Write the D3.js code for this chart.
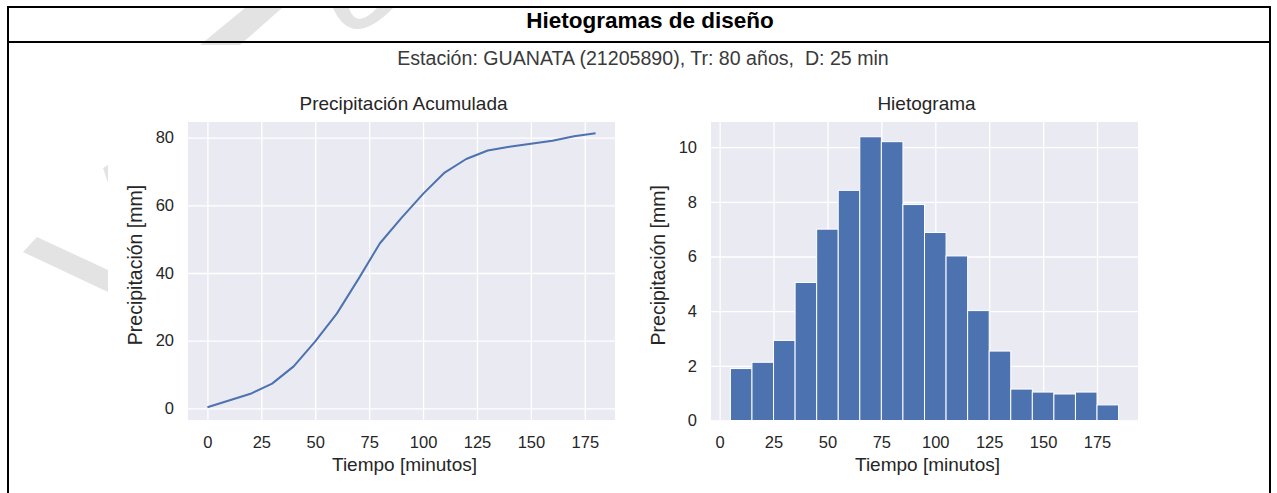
<!DOCTYPE html>
<html>
<head>
<meta charset="utf-8">
<script src="https://cdn.jsdelivr.net/npm/d3@7"></script>
<style>
  html, body { margin: 0; padding: 0; background: #fff; }
  svg { display: block; }
  text { font-family: "Liberation Sans", Arial, Helvetica, sans-serif; white-space: pre; }
</style>
</head>
<body>
<svg id="chart" width="1277" height="493"></svg>
<script>
// ---------------- data ----------------
const mainTitle = "Hietogramas de diseño";
const subTitle = "Estación: GUANATA (21205890), Tr: 80 años,  D: 25 min";
const leftTitle = "Precipitación Acumulada";
const rightTitle = "Hietograma";
const xLabel = "Tiempo [minutos]";
const yLabel = "Precipitación [mm]";

// cumulative precipitation (every 10 min)
const cumTime = [0, 10, 20, 30, 40, 50, 60, 70, 80, 90, 100, 110, 120, 130, 140, 150, 160, 170, 180];
const cumPrecip = [0.3, 2.3, 4.3, 7.3, 12.4, 19.8, 28.0, 38.2, 48.8, 56.3, 63.4, 69.7, 73.7, 76.2, 77.3, 78.2, 79.1, 80.4, 81.3];

// hyetograph bars (centre time, depth)
const barTime = [10, 20, 30, 40, 50, 60, 70, 80, 90, 100, 110, 120, 130, 140, 150, 160, 170, 180];
const barDepth = [1.9, 2.13, 2.93, 5.05, 7.0, 8.42, 10.38, 10.2, 7.9, 6.88, 6.02, 4.02, 2.54, 1.15, 1.04, 0.97, 1.04, 0.57];
const barWidth = 10;

const xTicks = [0, 25, 50, 75, 100, 125, 150, 175];
const yTicksLeft = [0, 20, 40, 60, 80];
const yTicksRight = [0, 2, 4, 6, 8, 10];

// ---------------- drawing ----------------
const svg = d3.select("#chart");
const BLUE = "#4C72B0", BG = "#EAEAF2", TXT = "#262626";

// watermark fragments (behind the figure)
const wm = svg.append("g").attr("fill", "#e3e3e3");
wm.append("polygon").attr("points", "200,45 245,8 282,8 240,45");
wm.append("path").attr("d", "M333,8 Q352,50 393,8 L377,8 Q356,30 349,8 Z");
wm.append("polygon").attr("points", "23,252 37,237 108,270 108,292");
wm.append("polygon").attr("points", "103,168 108,165 108,183");

// document table frame
const frame = svg.append("g").attr("stroke", "#000").attr("fill", "none");
frame.append("line").attr("x1", 7).attr("x2", 1271).attr("y1", 7).attr("y2", 7).attr("stroke-width", 2);
frame.append("line").attr("x1", 7).attr("x2", 1271).attr("y1", 42).attr("y2", 42).attr("stroke-width", 2);
frame.append("line").attr("x1", 8).attr("x2", 8).attr("y1", 6).attr("y2", 493).attr("stroke-width", 2);
frame.append("line").attr("x1", 1270).attr("x2", 1270).attr("y1", 6).attr("y2", 493).attr("stroke-width", 2);

svg.append("text").attr("x", 650).attr("y", 28).attr("text-anchor", "middle")
  .attr("font-size", 22.5).attr("font-weight", "bold").attr("fill", "#000").text(mainTitle);

svg.append("text").attr("x", 643).attr("y", 65).attr("text-anchor", "middle")
  .attr("font-size", 19.6).attr("fill", "#3a3a3a").text(subTitle);

function panel(cfg) {
  const g = svg.append("g");
  const x = d3.scaleLinear().domain(cfg.xDomain).range([cfg.left, cfg.right]);
  const y = d3.scaleLinear().domain(cfg.yDomain).range([cfg.bottom, cfg.top]);

  g.append("rect").attr("x", cfg.left).attr("y", cfg.top)
    .attr("width", cfg.right - cfg.left).attr("height", cfg.bottom - cfg.top).attr("fill", BG);

  const gx = g.append("g").attr("transform", `translate(0,${cfg.bottom})`)
    .call(d3.axisBottom(x).tickValues(xTicks).tickSize(-(cfg.bottom - cfg.top)).tickPadding(13).tickFormat(d3.format("d")));
  const gy = g.append("g").attr("transform", `translate(${cfg.left},0)`)
    .call(d3.axisLeft(y).tickValues(cfg.yTicks).tickSize(-(cfg.right - cfg.left)).tickPadding(14).tickFormat(d3.format("d")));
  [gx, gy].forEach(a => {
    a.select(".domain").remove();
    a.selectAll(".tick line").attr("stroke", "#fff").attr("stroke-width", 1.3);
    a.selectAll(".tick text").attr("fill", TXT).attr("font-size", 16.5)
      .attr("font-family", '"Liberation Sans", Arial, sans-serif');
  });
  gx.selectAll(".tick text").attr("dy", "0.9em");

  cfg.draw(g, x, y);

  g.append("text").attr("x", (cfg.left + cfg.right) / 2 + 2).attr("y", 110).attr("text-anchor", "middle")
    .attr("font-size", 19).attr("fill", TXT).text(cfg.title);
  g.append("text").attr("x", (cfg.left + cfg.right) / 2 + 3).attr("y", 471).attr("text-anchor", "middle")
    .attr("font-size", 19).attr("fill", TXT).text(xLabel);
  g.append("text").attr("transform", `translate(${cfg.left - 46},${(cfg.top + cfg.bottom) / 2 - 6}) rotate(-90)`)
    .attr("text-anchor", "middle").attr("font-size", 19.5).attr("fill", TXT).text(yLabel);
}

panel({
  left: 188, right: 615, top: 122, bottom: 420,
  xDomain: [-9, 189], yDomain: [-3.45, 84.64], yTicks: yTicksLeft, title: leftTitle,
  draw: (g, x, y) => {
    const line = d3.line().x((d, i) => x(cumTime[i])).y(d => y(d));
    g.append("path").datum(cumPrecip).attr("d", line)
      .attr("fill", "none").attr("stroke", BLUE).attr("stroke-width", 2).attr("stroke-linejoin", "round");
  }
});

panel({
  left: 711, right: 1138, top: 122, bottom: 420.5,
  xDomain: [-4, 194], yDomain: [0, 10.92], yTicks: yTicksRight, title: rightTitle,
  draw: (g, x, y) => {
    g.selectAll("rect.bar").data(barDepth).enter().append("rect").attr("class", "bar")
      .attr("x", (d, i) => x(barTime[i] - barWidth / 2))
      .attr("width", (d, i) => x(barTime[i] + barWidth / 2) - x(barTime[i] - barWidth / 2))
      .attr("y", d => y(d)).attr("height", d => y(0) - y(d))
      .attr("fill", BLUE).attr("stroke", "#fff").attr("stroke-width", 1);
  }
});
</script>
</body>
</html>
